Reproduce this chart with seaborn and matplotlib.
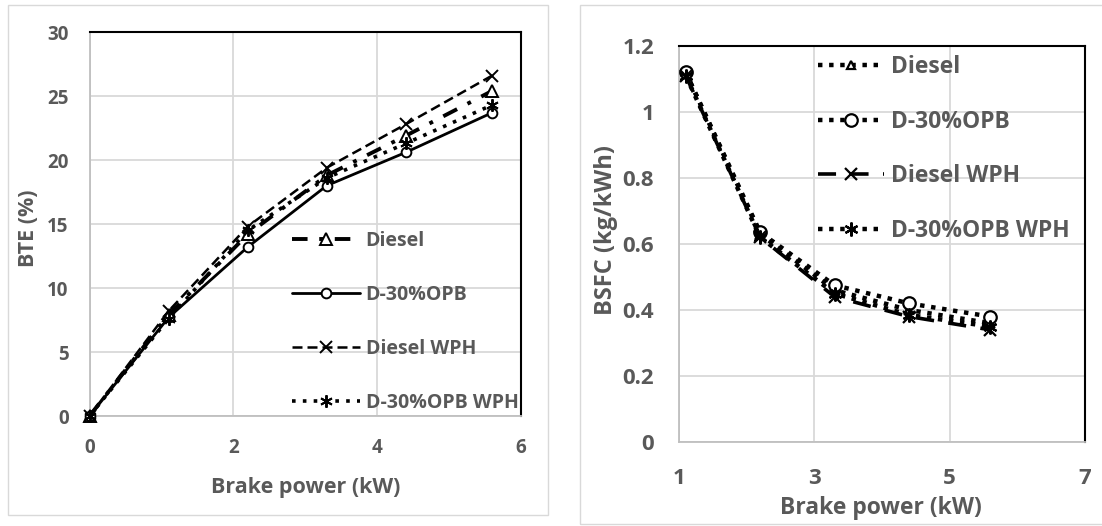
import matplotlib
matplotlib.use("Agg")
import matplotlib.pyplot as plt
import seaborn as sns
from matplotlib.patches import Rectangle

# brake power (kW)
bp_bte = [0, 1.1, 2.2, 3.3, 4.4, 5.6]
bp_bsfc = [1.1, 2.2, 3.3, 4.4, 5.6]

# BTE (%)
bte_diesel = [0, 7.9, 14.2, 18.8, 21.9, 25.4]
bte_opb = [0, 7.7, 13.2, 18.0, 20.6, 23.7]
bte_diesel_wph = [0, 8.2, 14.8, 19.4, 22.8, 26.6]
bte_opb_wph = [0, 7.6, 14.5, 18.6, 21.3, 24.3]

# BSFC (kg/kWh)
bsfc_diesel = [1.12, 0.63, 0.46, 0.40, 0.36]
bsfc_opb = [1.12, 0.635, 0.475, 0.42, 0.38]
bsfc_diesel_wph = [1.11, 0.62, 0.44, 0.38, 0.34]
bsfc_opb_wph = [1.11, 0.62, 0.45, 0.385, 0.35]

labels = ["Diesel", "D-30%OPB", "Diesel WPH", "D-30%OPB WPH"]

sns.set_style("white")
plt.rcParams["font.family"] = ["Open Sans", "DejaVu Sans"]
plt.rcParams["font.weight"] = "bold"
txt = "#595959"
grid = "#D9D9D9"

W, H = 1102, 526
fig = plt.figure(figsize=(W / 100, H / 100), dpi=100)

# outer chart frames
fig.patches.append(Rectangle((8 / W, 1 - 515 / H), 540 / W, 510 / H,
                             transform=fig.transFigure, fill=False, ec="#D9D9D9", lw=1))
fig.patches.append(Rectangle((580 / W, 1 - 524 / H), 530 / W, 519 / H,
                             transform=fig.transFigure, fill=False, ec="#D9D9D9", lw=1))

ax1 = fig.add_axes([89.5 / W, 1 - 416 / H, 431.5 / W, 384 / H])
ax2 = fig.add_axes([679 / W, 1 - 442 / H, 406 / W, 396 / H])

left_styles = [
    dict(linestyle=(0, (4, 3, 1, 3)), lw=2.8, marker="^", ms=8, mfc="white"),
    dict(linestyle="-", lw=2.0, marker="o", ms=7, mfc="white"),
    dict(linestyle=(0, (4, 2)), lw=1.8, marker="x", ms=8),
    dict(linestyle=(0, (1, 2)), lw=2.6, marker=(6, 2, 0), ms=9),
]
right_styles = [
    dict(linestyle=(0, (1, 1.5)), lw=3.2, marker="^", ms=6, mfc="white"),
    dict(linestyle=(0, (1, 1.5)), lw=3.2, marker="o", ms=9, mfc="white"),
    dict(linestyle=(0, (5, 4)), lw=2.6, marker="x", ms=8),
    dict(linestyle=(0, (1, 1.5)), lw=3.2, marker=(6, 2, 0), ms=10),
]

for y, lab, st in zip([bte_diesel, bte_opb, bte_diesel_wph, bte_opb_wph], labels, left_styles):
    sns.lineplot(x=bp_bte, y=y, ax=ax1, color="black", label=lab, mec="black",
                 mew=1.4, clip_on=False, zorder=3, **st)

for y, lab, st in zip([bsfc_diesel, bsfc_opb, bsfc_diesel_wph, bsfc_opb_wph], labels, right_styles):
    sns.lineplot(x=bp_bsfc, y=y, ax=ax2, color="black", label=lab, mec="black",
                 mew=1.6, clip_on=False, zorder=3, **st)

ax1.set_xlim(0, 6)
ax1.set_ylim(0, 30)
ax1.set_xticks(range(0, 7, 2))
ax1.set_yticks(range(0, 31, 5))
ax1.set_xlabel("Brake power (kW)", fontsize=15.5, color=txt, fontweight="bold")
ax1.set_ylabel("BTE (%)", fontsize=15.5, color=txt, fontweight="bold")
ax1.xaxis.set_label_coords(0.5, -0.16)
ax1.yaxis.set_label_coords(-0.117, 0.49)
ax1.tick_params(axis="both", length=0, labelsize=13.5, labelcolor=txt)
ax1.tick_params(axis="x", pad=15.5)
ax1.tick_params(axis="y", pad=15)

ax2.set_xlim(1, 7)
ax2.set_ylim(0, 1.2)
ax2.set_xticks([1, 3, 5, 7])
ax2.set_yticks([0, 0.2, 0.4, 0.6, 0.8, 1, 1.2])
ax2.set_yticklabels(["0", "0.2", "0.4", "0.6", "0.8", "1", "1.2"])
ax2.set_xlabel("Brake power (kW)", fontsize=16.5, color=txt, fontweight="bold")
ax2.set_ylabel("BSFC (kg/kWh)", fontsize=17, color=txt, fontweight="bold")
ax2.xaxis.set_label_coords(0.497, -0.136)
ax2.yaxis.set_label_coords(-0.15, 0.535)
ax2.tick_params(axis="both", length=0, labelsize=16, labelcolor=txt)
ax2.tick_params(axis="x", pad=19)
ax2.tick_params(axis="y", pad=18)

for ax in (ax1, ax2):
    ax.grid(True, color=grid, lw=1.3)
    ax.set_axisbelow(True)
    for side in ["top", "right"]:
        ax.spines[side].set_color("black")
        ax.spines[side].set_linewidth(1.5)
    for side in ["left", "bottom"]:
        ax.spines[side].set_color("#BFBFBF")
        ax.spines[side].set_linewidth(1.3)

leg1 = ax1.legend(loc="upper left", bbox_to_anchor=(0.446, 0.508), frameon=False,
                  borderpad=0, handlelength=3.5, labelspacing=1.75, handletextpad=0.3,
                  prop=dict(size=14, weight="bold"))
for t in leg1.get_texts():
    t.set_color(txt)

leg2 = ax2.legend(loc="upper left", bbox_to_anchor=(0.313, 1.005), frameon=False,
                  borderpad=0, handlelength=2.9, labelspacing=1.33, handletextpad=0.3,
                  prop=dict(size=16.5, weight="bold"))
for t in leg2.get_texts():
    t.set_color(txt)

fig.savefig("out.png", dpi=100)
